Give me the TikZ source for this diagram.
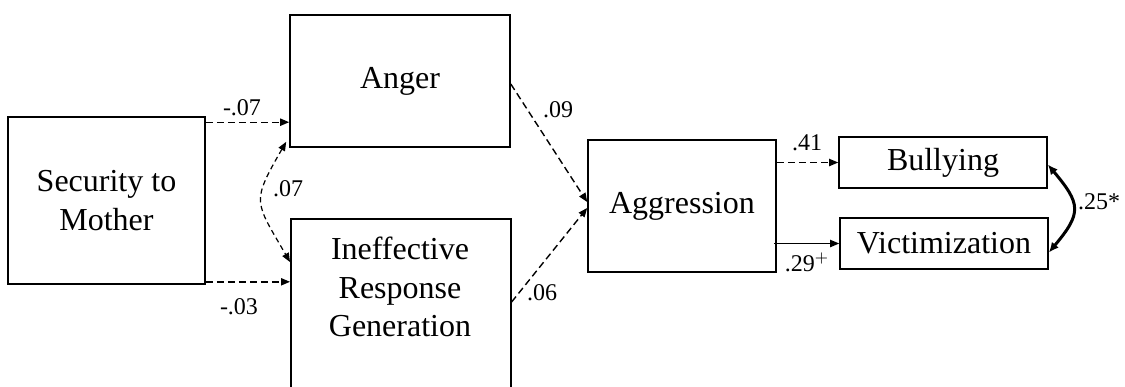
\documentclass[tikz,border=0pt]{standalone}
\usepackage{fontspec}
\setmainfont{Liberation Serif}
\usetikzlibrary{positioning, arrows.meta}

\begin{document}
\begin{tikzpicture}[x=0.5pt, y=0.5pt, >={Triangle[length=4.5pt,width=3.6pt]},
                    shorten >=0pt, semithick]

    % Styles for boxes and path labels
    \tikzset{box/.style={rectangle, draw, line width=0.8pt, inner sep=0pt,
                         align=center, font=\fontsize{16}{19.4}\selectfont},
             coef/.style={inner sep=0pt, font=\fontsize{12}{14}\selectfont},
             dsh/.style={dash pattern=on 3.5pt off 2pt, line width=0.7pt},
             fine/.style={dash pattern=on 2.6pt off 1.8pt, line width=0.6pt}}

    \useasboundingbox (0,0) rectangle (1125,-386);
    \clip (0,0) rectangle (1125,-386);

    % Boxes
    \node[box, minimum width=98.5pt, minimum height=83.5pt] (sec) at (106.5,-200.5) {Security to\\Mother};
    \node[box, minimum width=110pt, minimum height=66pt] (anger) at (400,-81) {Anger};
    \node[box, anchor=north west, minimum width=110pt, minimum height=110pt] (ire) at (290,-218) {};
    \node[align=center, inner sep=0pt, font=\fontsize{16}{19.4}\selectfont] (iretext) at (400,-287) {Ineffective\\Response\\Generation};
    \node[box, minimum width=94pt, minimum height=66pt] (agg) at (682,-206) {Aggression};
    \node[box, minimum width=104pt, minimum height=25.5pt] (bul) at (943,-162.5) {Bullying};
    \node[box, minimum width=104pt, minimum height=25.5pt] (vic) at (944,-243.5) {Victimization};

    % Paths
    \draw[dsh, ->] ([yshift=-3pt]sec.north east) -- ([yshift=-3pt]sec.north east -| anger.west);
    \draw[dsh, ->] ([yshift=1.5pt]sec.south east) -- ([yshift=1.5pt]sec.south east -| ire.west);
    \draw[fine, <->] ([shift={(-1.5pt,3pt)}]anger.south west) to[out=240, in=120, looseness=1.5] ([yshift=-22pt]ire.north west);
    \draw[dsh, ->] ([yshift=-1.5pt]anger.east) -- ([yshift=2pt]agg.west);
    \draw[dsh, ->] ([yshift=-42pt]ire.north east) -- ([yshift=-1pt]agg.west);
    \draw[dsh, ->] (agg.east |- bul.west) -- (bul.west);
    \draw[line width=0.7pt, ->] ([xshift=-1.5pt]agg.east |- vic.west) -- (vic.west);
    \draw[line width=1.5pt, {Latex[length=5pt,width=4.5pt]}-{Latex[length=5pt,width=4.5pt]}]
        ([yshift=-1pt]bul.east) to[out=-50, in=50, looseness=1.5] ([yshift=-4.5pt]vic.east);

    % Coefficients
    \node[coef] (l1) at (242,-108) {-.07};
    \node[coef] (l2) at (239,-307) {-.03};
    \node[coef] (l3) at (288,-189) {.07};
    \node[coef] (l4) at (558,-110) {.09};
    \node[coef] (l5) at (542,-293) {.06};
    \node[coef] (l6) at (807,-143) {.41};
    \node[coef] (l7) at (807,-262) {.29$^{+}$};
    \node[coef] (l8) at (1099,-202) {.25*};
\end{tikzpicture}
\end{document}
